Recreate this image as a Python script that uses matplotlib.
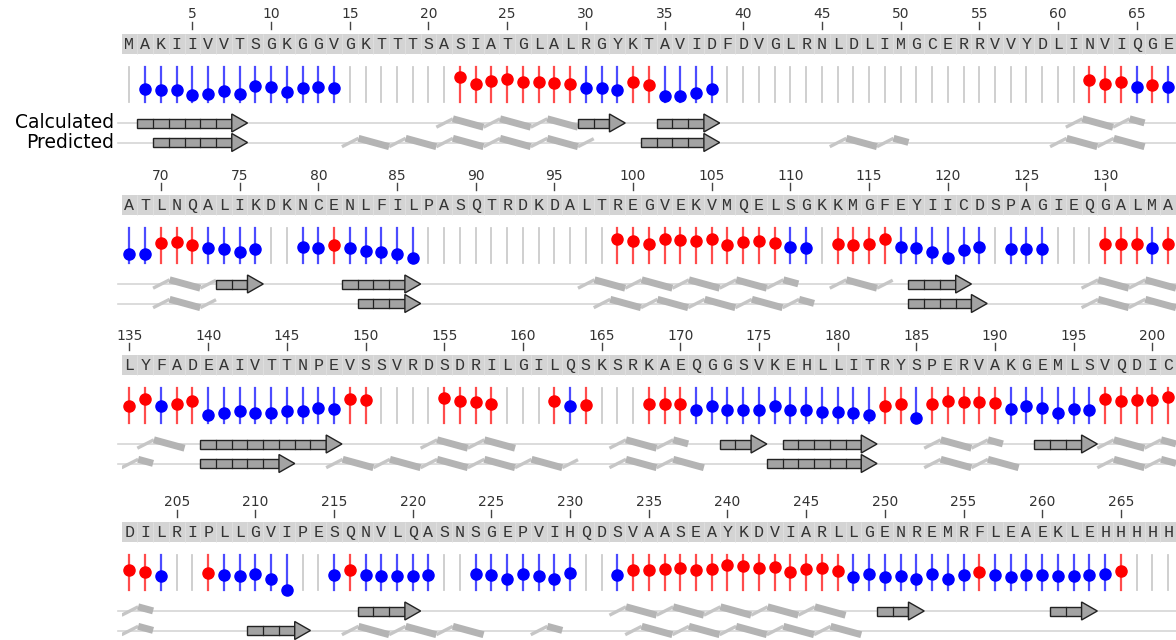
import matplotlib.pyplot as plt
import numpy as np
from matplotlib.patches import Rectangle, Polygon

# ---- data -------------------------------------------------------------
row_starts = [1, 68, 135, 202]

seq_rows = [
    "MAKIIVVTSGKGGVGKTTTSASIATGLALRGYKTAVIDFDVGLRNLDLIMGCERRVVYDLINVIQGE",
    "ATLNQALIKDKNCENLFILPASQTRDKDALTREGVEKVMQELSGKKMGFEYIICDSPAGIEQGALMA",
    "LYFADEAIVTTNPEVSSVRDSDRILGILQSKSRKAEQGGSVKEHLLITRYSPERVAKGEMLSVQDIC",
    "DILRIPLLGVIPESQNVLQASNSGEPVIHQDSVAASEAYKDVIARLLGENREMRFLEAEKLEHHHHH",
]

# '-' no value, 'r' red, 'b' blue
state_rows = [
    "-" + "b" * 13 + "-" * 7 + "r" * 8 + "bbb" + "rr" + "bbbb" + "-" * 23 + "rrr" + "b" + "r" + "b",
    "bbrrrbbbb" + "--" + "bbrbbbbb" + "-" * 12 + "r" * 11 + "bb" + "-" + "rrrr" + "b" * 6 + "-" + "bbb" + "---" + "rrr" + "b" + "r",
    "rrbrr" + "b" * 9 + "rr" + "----" + "rrrr" + "---" + "rbr" + "---" + "rrr" + "b" * 12 + "rrb" + "rrrrr" + "b" * 6 + "rrrrr",
    "rrb" + "--" + "r" + "bbbbb" + "--" + "br" + "bbbbb" + "--" + "b" * 7 + "--" + "b" + "r" * 14 + "b" * 8 + "r" + "b" * 8 + "r" + "---",
]

score_rows = [
    [None, .35, .33, .32, .20, .22, .30, .23, .44, .42, .27, .40, .42, .40]
    + [None] * 7
    + [.70, .50, .60, .64, .57, .57, .55, .52, .38, .38, .32, .57, .47, .17, .17, .25, .37]
    + [None] * 23
    + [.63, .50, .57, .42, .47, .42],
    [.26, .24, .57, .60, .51, .43, .40, .30, .40, None, None,
     .46, .43, .50, .43, .33, .30, .26, .12]
    + [None] * 12
    + [.69, .62, .55, .67, .64, .62, .67, .52, .60, .62, .57, .46, .43, None,
       .55, .50, .55, .69, .46, .41, .29, .13, .36, .46, None,
       .40, .40, .40, None, None, None, .53, .53, .53, .43, .55],
    [.47, .68, .47, .53, .62, .23, .28, .32, .28, .28, .32, .32, .42, .38, .68, .64,
     None, None, None, None, .72, .63, .60, .55, None, None, None, .62, .47, .52,
     None, None, None, .55, .55, .55,
     .37, .47, .35, .37, .37, .47, .37, .37, .30, .29, .28, .21,
     .49, .54, .13, .55, .62, .60, .60, .57,
     .40, .47, .41, .28, .38, .35, .67, .62, .64, .65, .75],
    [.57, .50, .38, None, None, .48, .41, .40, .46, .30, -.02, None, None,
     .43, .57, .43, .40, .40, .40, .43, None, None,
     .45, .43, .29, .45, .38, .31, .48, None, None, .43,
     .57, .57, .59, .62, .57, .59, .71, .67, .62, .64, .50, .59, .62, .55,
     .36, .45, .36, .40, .31, .45, .31, .41, .50,
     .41, .36, .43, .43, .38, .38, .41, .45, .54, None, None, None],
]

calc_helix = [(21, 29), (61, 65), (70, 73), (97, 110), (113, 116), (129, 134), (136, 138),
              (154, 159), (166, 170), (186, 190), (197, 201), (202, 203), (233, 247)]
calc_strand = [(2, 8), (30, 32), (35, 38), (74, 76), (82, 86), (118, 121), (140, 148),
               (173, 175), (177, 182), (193, 196), (217, 220), (250, 252), (261, 263)]
pred_helix = [(15, 30), (46, 50), (60, 65), (70, 73), (98, 111), (129, 136), (148, 163),
              (166, 171), (186, 191), (197, 201), (202, 203), (216, 224), (228, 229), (234, 248)]
pred_strand = [(3, 8), (34, 38), (83, 86), (118, 122), (140, 145), (176, 182), (210, 213)]

# ---- layout (pixels) --------------------------------------------------
W, H = 1176, 640
ROW_H = 160
LEFT = 121.6
row_offsets = [0, 161, 321, 488]
STEM_TOP, STEM_BOT = 67, 101.5
CALC_Y, PRED_Y = 123, 142.5
RED, BLUE = '#ff0000', '#0000ff'


def draw_helix(ax, a, b, y):
    x0, x1 = a - 0.5, b + 0.5
    period = 3.0
    amp = 4.2
    x = x0
    while x < x1 - 0.1:
        xm = min(x + 0.35 * period, x1)
        ym = y + amp - 2 * amp * (xm - x) / (0.35 * period)
        ax.plot([x, xm], [y + amp, ym], color='#c6c6c6', lw=2.4, solid_capstyle='butt', zorder=2)
        xe = min(x + period, x1)
        if xe > xm + 0.01:
            ye = y - amp + 2 * amp * (xe - xm) / (0.65 * period)
            ax.plot([xm, xe], [ym, ye], color='#b4b4b4', lw=5, solid_capstyle='butt', zorder=2)
        x = xe


def draw_strand(ax, a, b, y):
    bh, hh = 9, 18
    ax.add_patch(Rectangle((a - 0.5, y - bh / 2), b - a, bh, fc='#a3a3a3', ec='#222222',
                           lw=1, zorder=3))
    for k in range(a, b - 1):
        ax.plot([k + 0.5, k + 0.5], [y - bh / 2, y + bh / 2], color='#222222', lw=0.9, zorder=4)
    ax.add_patch(Polygon([(b - 0.5, y - hh / 2), (b + 0.5, y), (b - 0.5, y + hh / 2)],
                         closed=True, fc='#a3a3a3', ec='#222222', lw=1, zorder=3))


fig = plt.figure(figsize=(W / 100, H / 100), dpi=100)

for start, off, seq, states, scores in zip(row_starts, row_offsets, seq_rows, state_rows, score_rows):
    ax = fig.add_axes([LEFT / W, (H - off - ROW_H) / H, (W - LEFT) / W, ROW_H / H])
    ax.set_xlim(start - 0.5, start + 66.5)
    ax.set_ylim(ROW_H, 0)
    ax.axis('off')
    end = start + 66
    res = np.arange(start, end + 1)

    # ruler
    for r in res[res % 5 == 0]:
        ax.plot([r, r], [21.5, 29], color='#444444', lw=1)
        ax.text(r, 14.5, str(r), ha='center', va='center', fontsize=10, color='#333333')

    # sequence bar
    ax.add_patch(Rectangle((start - 0.5, 33.5), 67, 20, fc='#d4d4d4', ec='none'))
    ax.vlines(res[:-1] + 0.5, 33.5, 53.5, color='#e0e0e0', lw=0.6)
    for r, ch in zip(res, seq):
        ax.text(r, 44.5, ch, ha='center', va='center', fontsize=12,
                family='Liberation Mono', color='#333333')

    # lollipops
    for r, s, v in zip(res, states, scores):
        if s == '-':
            ax.plot([r, r], [STEM_TOP, STEM_BOT], color='#cccccc', lw=1.3)
        else:
            c = RED if s == 'r' else BLUE
            ax.plot([r, r], [STEM_TOP, STEM_BOT], color=c, lw=1.6, alpha=0.7)
            ax.plot(r, STEM_BOT - v * (STEM_BOT - STEM_TOP), 'o', color=c, ms=8)

    # secondary structure tracks
    for y, helices, strands in [(CALC_Y, calc_helix, calc_strand), (PRED_Y, pred_helix, pred_strand)]:
        ax.plot([start - 0.7, end + 0.5], [y, y], color='#d6d6d6', lw=1.2, clip_on=False, zorder=1)
        for a, b in helices:
            a2, b2 = max(a, start), min(b, end)
            if a2 <= b2:
                draw_helix(ax, a2, b2, y)
        for a, b in strands:
            a2, b2 = max(a, start), min(b, end)
            if a2 <= b2:
                draw_strand(ax, a2, b2, y)

fig.text(114 / W, 1 - 123 / H, 'Calculated', ha='right', va='center', fontsize=13.5)
fig.text(114 / W, 1 - 142 / H, 'Predicted', ha='right', va='center', fontsize=13.5)

fig.savefig('out.png', dpi=100)
